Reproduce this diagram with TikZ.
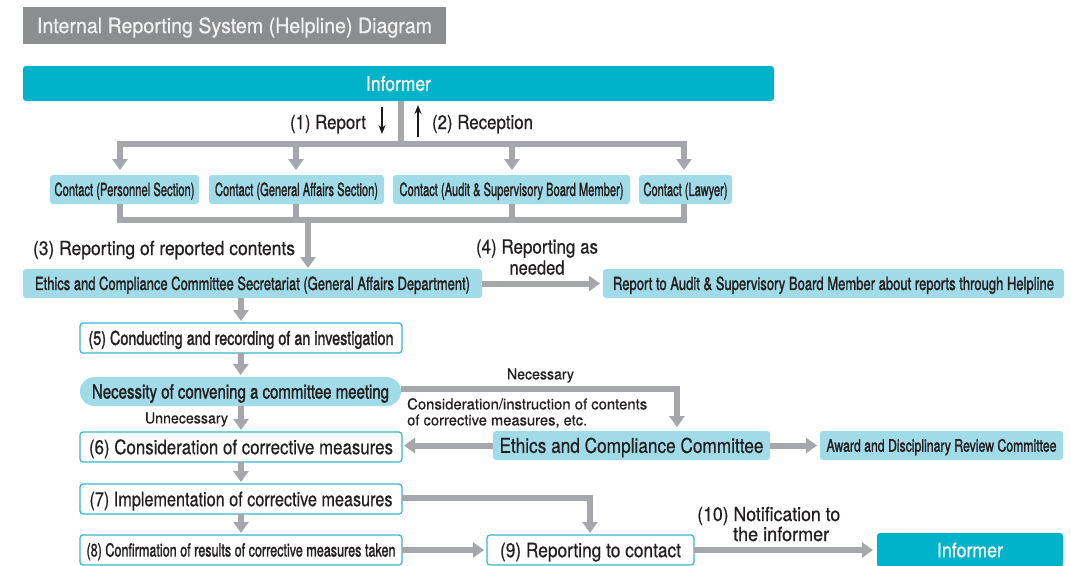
\documentclass[tikz,border=0pt]{standalone}
\usepackage{fontspec}
\usepackage{graphicx}
\setmainfont[FakeBold=0.5]{TeX Gyre Heros}
\newfontfamily\cnd[FakeBold=1.8]{TeX Gyre Heros}
\usetikzlibrary{arrows.meta}

\definecolor{cyanD}{HTML}{00B3CA}
\definecolor{cyanL}{HTML}{A1DBE8}
\definecolor{barg}{HTML}{A6A7AA}
\definecolor{titleg}{HTML}{8C8D8F}
\definecolor{ink}{HTML}{231F20}
\definecolor{edge}{HTML}{33B9CC}

% squeeze a line of text horizontally to a given width (in pt);
% the box keeps only the cap height so that capitals sit centred
\newlength\fitlen
\newcommand\fitto[2]{\settowidth{\fitlen}{#2}\pgfmathsetmacro\fitratio{#1/\fitlen}%
  \raisebox{0pt}[0.72em][0pt]{\scalebox{\fitratio}[1]{#2}}}
\newcommand\fs[2]{\fontsize{#1}{#2}\selectfont}

\tikzset{
  box/.style={anchor=north west, inner sep=0pt, outer sep=0pt, text=ink},
  solidbox/.style={box, fill=cyanL, rounded corners=3pt},
  darkbox/.style={box, fill=cyanD, rounded corners=3pt, text=white},
  linebox/.style={box, fill=white, draw=edge, line width=1.2pt, rounded corners=3pt},
  lbl/.style={inner sep=0pt, text=ink},
  gbar/.style={draw=barg, line width=6pt},
  gtip/.style={-{Triangle[width=15pt,length=11pt]}},
  gtips/.style={{Triangle[width=15pt,length=11pt]}-{Triangle[width=15pt,length=11pt]}},
  blk/.style={draw=black!90, line width=1.3pt, -{Stealth[width=7pt,length=9pt]}}
}

\begin{document}
\begin{tikzpicture}[x=1pt,y=-1pt]
\useasboundingbox (0,0) rectangle (1071,565);
\clip (0,0) rectangle (1071,565);
\fill[white] (0,0) rectangle (1071,565);

% title and informer
\node[box, fill=titleg, text=white!95!black, minimum width=423pt, minimum height=37pt, font=\fs{21}{24}]
  (title) at (23,7) {\fitto{395}{Internal Reporting System (Helpline) Diagram}};
\node[darkbox, minimum width=751pt, minimum height=35pt, font=\fs{20}{22}]
  (inf1) at (23,66) {\fitto{65}{Informer}};

% contact points
\node[solidbox, minimum width=149pt, minimum height=29pt, font=\cnd\fs{18}{19}]
  (c1) at (50,175) {\fitto{140}{Contact (Personnel Section)}};
\node[solidbox, minimum width=175pt, minimum height=29pt, font=\cnd\fs{18}{19}]
  (c2) at (209,175) {\fitto{163}{Contact (General Affairs Section)}};
\node[solidbox, minimum width=237pt, minimum height=29pt, font=\cnd\fs{18}{19}]
  (c3) at (393,175) {\fitto{224}{Contact (Audit \& Supervisory Board Member)}};
\node[solidbox, minimum width=93pt, minimum height=29pt, font=\cnd\fs{18}{19}]
  (c4) at (639,175) {\fitto{84}{Contact (Lawyer)}};

% secretariat and report
\node[solidbox, minimum width=459pt, minimum height=29pt, font=\cnd\fs{18}{19}]
  (sec) at (23,269) {\fitto{435}{Ethics and Compliance Committee Secretariat (General Affairs Department)}};
\node[solidbox, minimum width=461pt, minimum height=29pt, font=\cnd\fs{18}{19}]
  (rep) at (603,269) {\fitto{441}{Report to Audit \& Supervisory Board Member about reports through Helpline}};

% process steps
\node[linebox, minimum width=322pt, minimum height=30pt, font=\cnd\fs{19}{20}]
  (s5) at (80,323) {\fitto{305}{(5) Conducting and recording of an investigation}};
\node[box, fill=cyanL, rounded corners=14.5pt, minimum width=321pt, minimum height=29pt, font=\cnd\fs{19.5}{21}]
  (nec) at (80,377) {\fitto{297}{Necessity of convening a committee meeting}};
\node[linebox, minimum width=322pt, minimum height=30pt, font=\fs{20}{21}]
  (s6) at (80,432) {\fitto{304}{(6) Consideration of corrective measures}};
\node[linebox, minimum width=322pt, minimum height=30pt, font=\fs{20}{21}]
  (s7) at (80,484) {\fitto{303}{(7) Implementation of corrective measures}};
\node[linebox, minimum width=322pt, minimum height=30pt, font=\cnd\fs{18}{20}]
  (s8) at (80,535) {\fitto{309}{(8) Confirmation of results of corrective measures taken}};

\node[solidbox, minimum width=277pt, minimum height=29pt, font=\fs{20.5}{22}]
  (eth) at (493,431) {\fitto{264}{Ethics and Compliance Committee}};
\node[solidbox, minimum width=243pt, minimum height=29pt, font=\cnd\fs{17}{18}]
  (award) at (820,431) {\fitto{230}{Award and Disciplinary Review Committee}};
\node[linebox, minimum width=207pt, minimum height=30pt, font=\fs{20}{21}]
  (s9) at (487,535) {\fitto{181}{(9) Reporting to contact}};
\node[darkbox, minimum width=186pt, minimum height=34pt, font=\fs{20}{22}]
  (inf2) at (877,533) {\fitto{66}{Informer}};

% labels
\node[lbl, font=\fs{19.5}{21}] (lrep) at (328,122) {\fitto{76}{(1) Report}};
\node[lbl, font=\fs{19.5}{21}] (lrec) at (482.5,122) {\fitto{101}{(2) Reception}};
\node[lbl, font=\fs{19.5}{21}] (l3) at (164,248) {\fitto{262}{(3) Reporting of reported contents}};
\node[lbl, align=center, font=\fs{19.5}{21}] (l4) at (537,257)
  {\fitto{122}{(4) Reporting as}\\\fitto{55}{needed}};
\node[lbl, font=\fs{15}{16}] (lunn) at (186.5,418) {\fitto{83}{Unnecessary}};
\node[lbl, font=\fs{15}{16}] (lnec) at (540.5,374) {\fitto{67}{Necessary}};
\node[lbl, anchor=west, align=left, font=\fs{15}{16}] (lcons) at (407,412)
  {\fitto{240}{Consideration/instruction of contents}\\\fitto{180}{of corrective measures, etc.}};
\node[lbl, anchor=west, align=left, font=\fs{19.5}{20}] (l10) at (697,524)
  {\fitto{143}{(10) Notification to}\\\hspace*{36pt}\fitto{96}{the informer}};

% small direction arrows beside the informer link
\coordinate (ra) at (382,107); \coordinate (rb) at (382,134);
\coordinate (qa) at (418,137); \coordinate (qb) at (418,105);
\draw[blk] (ra) -- (rb);
\draw[blk] (qa) -- (qb);

% informer -> contacts
\coordinate (bA) at (120,144); \coordinate (bB) at (296,144);
\coordinate (bC) at (512,144); \coordinate (bD) at (684,144);
\coordinate (bM) at (401,144);
\draw[gbar] (inf1.south -| bM) -- (bM);
\draw[gbar, gtips] ([yshift=5pt]c1.north -| bA) -- (bA) -- (bD) -- ([yshift=5pt]c4.north -| bD);
\draw[gbar, gtip] (bB) -- ([yshift=5pt]c2.north -| bB);
\draw[gbar, gtip] (bC) -- ([yshift=5pt]c3.north -| bC);

% contacts -> secretariat
\coordinate (dA) at (120,220); \coordinate (dB) at (296,220);
\coordinate (dC) at (512,220); \coordinate (dD) at (684,220);
\coordinate (dM) at (308,220);
\draw[gbar] (c1.south -| dA) -- (dA) -- (dD) -- (c4.south -| dD);
\draw[gbar] (c2.south -| dB) -- (dB);
\draw[gbar] (c3.south -| dC) -- (dC);
\draw[gbar, gtip] (dM) -- ([yshift=1pt]sec.north -| dM);

% secretariat onwards
\draw[gbar, gtip] (sec.east) -- ([xshift=-3pt]rep.west);
\draw[gbar, gtip] (s5.north |- sec.south) -- ([yshift=2pt]s5.north);
\draw[gbar, gtip] (s5.south) -- ([yshift=2pt]nec.north);
\draw[gbar, gtip] (s6.north |- nec.south) -- ([yshift=2pt]s6.north);
\draw[gbar, gtip] (s6.south) -- ([yshift=2pt]s7.north);
\draw[gbar, gtip] (s7.south) -- ([yshift=2pt]s8.north);

% committee branch
\coordinate (kx) at (677,389);
\draw[gbar, gtip] (nec.east |- kx) -- (kx) -- ([yshift=4pt]eth.north -| kx);
\draw[gbar, gtip] (eth.west) -- ([xshift=2pt]s6.east |- eth.west);
\draw[gbar, gtip] (eth.east) -- ([xshift=-3pt]award.west);

% reporting back
\coordinate (mx) at (590,498);
\draw[gbar, gtip] (s7.east |- mx) -- (mx) -- ([yshift=2pt]s9.north -| mx);
\draw[gbar, gtip] (s8.east) -- ([xshift=-3pt]s9.west |- s8.east);
\draw[gbar, gtip] (s9.east) -- ([xshift=-4pt]inf2.west |- s9.east);
\end{tikzpicture}
\end{document}
